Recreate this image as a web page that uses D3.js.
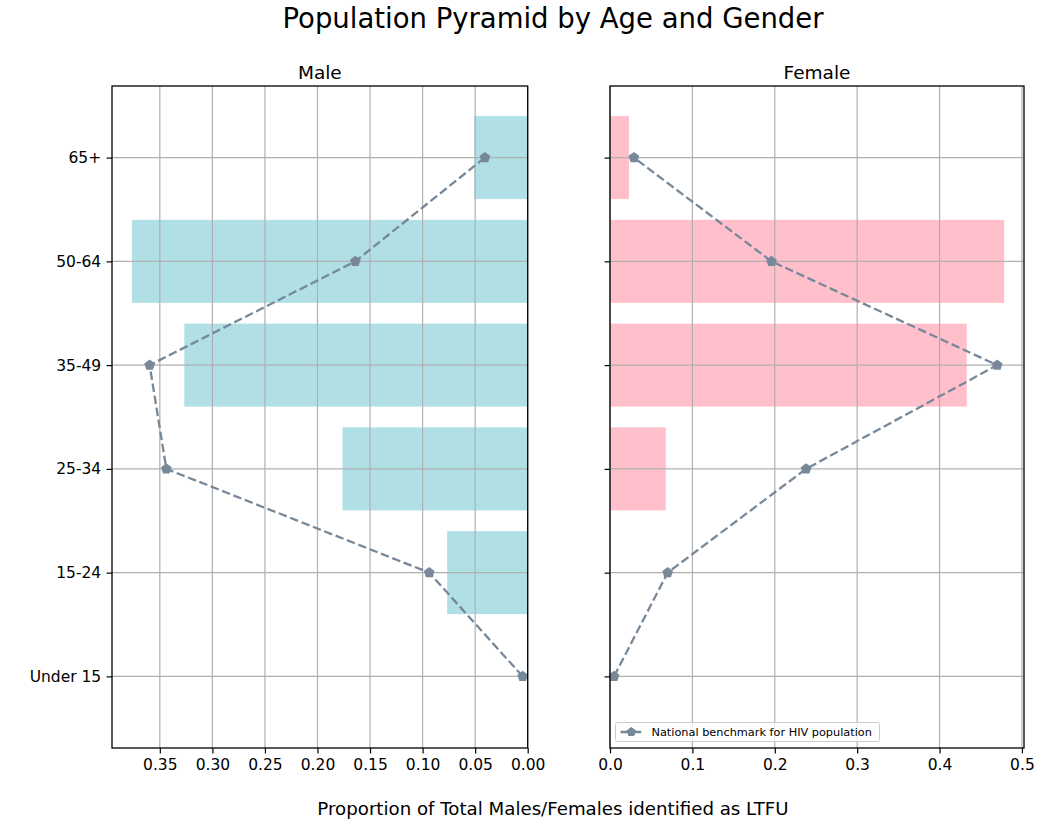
<!DOCTYPE html>
<html>
<head>
<meta charset="utf-8">
<script src="https://cdn.jsdelivr.net/npm/d3@7"></script>
<style>
  body { margin: 0; background: #fff; }
  svg text { font-family: "DejaVu Sans", sans-serif; fill: #000; }
</style>
</head>
<body>
<div class="chart"></div>
<script>
// data, bottom to top
const ageGroups = ['Under 15', '15-24', '25-34', '35-49', '50-64', '65+'];
const maleLtfu = [0, 0.0766, 0.1762, 0.3267, 0.3766, 0.0509];
const femaleLtfu = [0, 0, 0.0677, 0.433, 0.4785, 0.023];
const maleBenchmark = [0.0048, 0.0937, 0.3438, 0.3597, 0.164, 0.0407];
const femaleBenchmark = [0.0049, 0.070, 0.238, 0.470, 0.196, 0.029];
const maleTicks = [0.35, 0.30, 0.25, 0.20, 0.15, 0.10, 0.05, 0.00];
const femaleTicks = [0.0, 0.1, 0.2, 0.3, 0.4, 0.5];

const W = 1056, H = 819;
const plotTop = 86, plotBottom = 748;

const svg = d3.select('.chart')
  .append('svg')
    .attr('width', W)
    .attr('height', H);

const yScale = d3.scaleLinear()
  .domain([-0.69, 5.69])
  .range([plotBottom, plotTop]);

const bandH = yScale(0) - yScale(0.8);

// pentagon marker
function pentagon(r) {
  const pts = d3.range(5).map(i => {
    const a = -Math.PI / 2 + i * 2 * Math.PI / 5;
    return [r * Math.cos(a), r * Math.sin(a)];
  });
  return 'M' + pts.join('L') + 'Z';
}

function panel(opts) {
  const g = svg.append('g');
  const x = opts.x;
  const x0 = d3.min(x.range()), x1 = d3.max(x.range());

  // bars
  g.selectAll('.bar')
    .data(opts.values)
    .enter()
    .append('rect')
      .attr('class', 'bar')
      .attr('x', d => Math.min(x(0), x(d)))
      .attr('y', (d, i) => yScale(i) - bandH / 2)
      .attr('width', d => Math.abs(x(d) - x(0)))
      .attr('height', bandH)
      .style('fill', opts.color);

  // grid
  g.selectAll('.vgrid')
    .data(opts.ticks)
    .enter()
    .append('line')
      .attr('x1', d => x(d)).attr('x2', d => x(d))
      .attr('y1', plotTop).attr('y2', plotBottom)
      .style('stroke', '#b0b0b0').style('stroke-width', 1.2);
  g.selectAll('.hgrid')
    .data(ageGroups)
    .enter()
    .append('line')
      .attr('x1', x0).attr('x2', x1)
      .attr('y1', (d, i) => yScale(i)).attr('y2', (d, i) => yScale(i))
      .style('stroke', '#b0b0b0').style('stroke-width', 1.2);

  // benchmark line
  const drawLine = d3.line()
    .x(d => x(d))
    .y((d, i) => yScale(i));
  g.append('path')
    .attr('d', drawLine(opts.bench))
    .style('fill', 'none')
    .style('stroke', '#778899')
    .style('stroke-width', 2.3)
    .style('stroke-dasharray', '8.5,3.7');
  g.selectAll('.mark')
    .data(opts.bench)
    .enter()
    .append('path')
      .attr('d', pentagon(5.6))
      .attr('transform', (d, i) => `translate(${x(d)},${yScale(i)})`)
      .style('fill', '#778899');

  // axes
  g.append('g')
    .attr('transform', `translate(0,${plotBottom})`)
    .call(d3.axisBottom(x).tickValues(opts.ticks).tickFormat(opts.fmt)
      .tickSizeOuter(0).tickSize(5.4).tickPadding(6))
    .call(a => a.select('.domain').remove())
    .call(a => a.selectAll('line').style('stroke-width', 1.2))
    .call(a => a.selectAll('text').style('font-size', '15.5px'));

  g.append('g')
    .attr('transform', `translate(${x0},0)`)
    .call(d3.axisLeft(yScale).tickValues(d3.range(6))
      .tickFormat(i => opts.labels ? ageGroups[i] : '')
      .tickSizeOuter(0).tickSize(5.4).tickPadding(5.4))
    .call(a => a.select('.domain').remove())
    .call(a => a.selectAll('line').style('stroke-width', 1.2))
    .call(a => a.selectAll('text').style('font-size', '15.5px'));

  // frame
  g.append('rect')
    .attr('x', x0).attr('y', plotTop)
    .attr('width', x1 - x0).attr('height', plotBottom - plotTop)
    .style('fill', 'none').style('stroke', '#000').style('stroke-width', 1.3);

  g.append('text')
    .attr('x', (x0 + x1) / 2).attr('y', plotTop - 7)
    .attr('text-anchor', 'middle')
    .style('font-size', '18.5px')
    .text(opts.title);

  return g;
}

const xMale = d3.scaleLinear().domain([0, 0.3955]).range([527.7, 112]);
const xFemale = d3.scaleLinear().domain([0, 0.5025]).range([610, 1024]);

panel({ x: xMale, values: maleLtfu, bench: maleBenchmark, ticks: maleTicks,
  fmt: d3.format('.2f'), color: '#b0e0e6', title: 'Male', labels: true });
const fem = panel({ x: xFemale, values: femaleLtfu, bench: femaleBenchmark, ticks: femaleTicks,
  fmt: d3.format('.1f'), color: '#ffc0cb', title: 'Female', labels: false });

// legend
const lg = fem.append('g').attr('transform', 'translate(615.5,722.5)');
lg.append('rect')
  .attr('width', 264).attr('height', 19).attr('rx', 2)
  .style('fill', 'rgba(255,255,255,0.8)').style('stroke', '#cccccc');
lg.append('line')
  .attr('x1', 5).attr('x2', 26.5).attr('y1', 9.5).attr('y2', 9.5)
  .style('stroke', '#778899').style('stroke-width', 2.3).style('stroke-dasharray', '8.5,3.7');
lg.append('path')
  .attr('d', pentagon(5))
  .attr('transform', 'translate(15.8,9.5)')
  .style('fill', '#778899');
lg.append('text')
  .attr('x', 36).attr('y', 13.5)
  .style('font-size', '11.3px')
  .text('National benchmark for HIV population');

// titles
svg.append('text')
  .attr('x', 553).attr('y', 28)
  .attr('text-anchor', 'middle')
  .style('font-size', '27.5px')
  .text('Population Pyramid by Age and Gender');

svg.append('text')
  .attr('x', 553).attr('y', 815)
  .attr('text-anchor', 'middle')
  .style('font-size', '18.2px')
  .text('Proportion of Total Males/Females identified as LTFU');
</script>
</body>
</html>
